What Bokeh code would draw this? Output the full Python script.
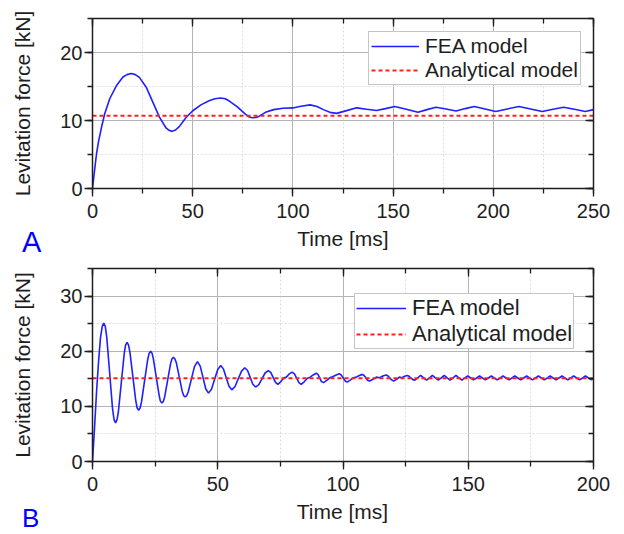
from bokeh.plotting import figure
from bokeh.layouts import column
from bokeh.models import (LinearAxis, Range1d, Legend, LegendItem, Div,
                          SingleIntervalTicker, CustomJSTickFormatter)
from bokeh.embed import file_html
from bokeh.resources import INLINE

FONT = "Liberation Sans"

# ---------------- Panel A data ----------------
a_time = [0, 1, 2, 3, 4.5, 6.1, 8.6, 11.9, 15.2, 17.2,
          19.3, 21.4, 23.5, 26.8, 30.1, 33.4, 36.7, 38.2, 39.7, 41.4,
          43.3, 46.6, 49.9, 54.1, 58.2, 61.0, 64.0, 66.2, 68.1, 72.3,
          76.4, 78.0, 79.7, 81.4, 83.0, 86.3, 90.4, 95.0, 100.0, 104.0,
          108.6, 112.0, 115.2, 118.5, 121.8, 126.8, 131.8, 136.8, 141.7, 146.2,
          150.8, 156.6, 162.4, 166.9, 171.4, 176.4, 181.4, 186.0, 190.5, 195.9,
          201.2, 207.0, 212.8, 218.6, 224.4, 229.8, 235.1, 240.5, 245.9, 250.0]
a_fea = [0, 2.6, 5.1, 6.9, 9.0, 11.0, 13.2, 15.1, 16.4, 16.75,
         16.9, 16.75, 16.3, 14.9, 12.7, 10.5, 8.9, 8.55, 8.4, 8.6,
         9.1, 10.4, 11.4, 12.3, 12.9, 13.2, 13.3, 13.2, 12.9, 12.0,
         10.9, 10.55, 10.4, 10.45, 10.6, 11.2, 11.6, 11.8, 11.85, 12.1,
         12.3, 12.05, 11.6, 11.2, 11.05, 11.45, 11.86, 11.65, 11.47, 11.75,
         12.06, 11.65, 11.2, 11.6, 11.96, 11.7, 11.4, 11.75, 12.06, 11.7,
         11.32, 11.7, 12.06, 11.7, 11.32, 11.65, 11.96, 11.65, 11.32, 11.6]
a_analytical = 10.7

# ---------------- Panel B data ----------------
b_time = [0, 0.8, 1.6, 2.4, 3.2, 3.9, 4.5,
          5.1, 5.7, 6.85, 8.0, 8.6, 9.2,
          9.8, 10.35, 11.5, 12.65, 13.2, 13.8,
          14.4, 14.95, 16.1, 17.25, 17.8, 18.4,
          19.0, 19.6, 20.8, 22.0, 22.6, 23.2,
          23.8, 24.3, 25.45, 26.6, 27.1, 27.7,
          28.3, 28.85, 30.0, 31.15, 31.7, 32.3,
          32.9, 33.5, 34.65, 35.8, 36.4, 37.0,
          37.6, 38.2, 39.45, 40.7, 41.9,
          43.0, 44.1, 45.2, 46.3,
          47.5, 48.75, 50.0, 51.2,
          52.3, 53.4, 54.5, 55.6,
          56.9, 58.2, 59.5, 60.8,
          61.9, 62.95, 64.0, 65.1,
          66.4, 67.65, 68.9, 70.2,
          71.15, 72.1, 73.05, 74.0,
          75.2, 76.4, 77.4, 78.6, 79.7,
          80.6, 81.5, 82.4, 83.3,
          84.6, 85.8, 86.9, 88.1, 89.3,
          90.0, 90.7, 91.4, 92.2,
          93.5, 94.8, 96.0, 97.3, 98.5,
          99.3, 100.1, 100.9, 101.7,
          103.0, 104.2, 105.3, 106.5, 107.7,
          108.4, 109.1, 109.8, 110.6,
          112.0, 113.3, 114.6, 115.9, 117.2,
          118.0, 118.7, 119.4, 120.2,
          121.4, 122.5, 123.5, 124.6, 125.6,
          126.4, 127.1, 127.9, 128.65,
          129.83, 131.0, 132.18, 133.35,
          134.53, 135.7, 136.88, 138.05,
          139.23, 140.4, 141.58, 142.75,
          143.93, 145.1, 146.28, 147.45,
          148.63, 149.8, 150.98, 152.15,
          153.33, 154.5, 155.68, 156.85,
          158.03, 159.2, 160.38, 161.55,
          162.73, 163.9, 165.08, 166.25,
          167.43, 168.6, 169.78, 170.95,
          172.13, 173.3, 174.48, 175.65,
          176.83, 178.0, 179.18, 180.35,
          181.53, 182.7, 183.88, 185.05,
          186.23, 187.4, 188.58, 189.75,
          190.93, 192.1, 193.28, 194.45,
          195.63, 196.8, 197.98, 199.15,
          200.0]
b_fea = [0, 6.0, 12.5, 18.0, 22.5, 24.5, 25.1,
         24.5, 22.5, 16.05, 9.6, 7.6, 7.0,
         7.6, 9.1, 14.3, 19.5, 21.1, 21.6,
         21.1, 19.8, 15.45, 11.1, 9.75, 9.3,
         9.7, 10.9, 14.65, 18.4, 19.6, 20.0,
         19.6, 18.6, 15.3, 12.0, 10.95, 10.6,
         10.9, 11.8, 14.75, 17.7, 18.6, 18.9,
         18.6, 17.85, 15.3, 12.75, 11.95, 11.7,
         11.95, 12.6, 14.9, 17.2, 18.1,
         17.3, 15.25, 13.2, 12.4,
         13.1, 14.9, 16.7, 17.4,
         16.75, 15.2, 13.65, 13.0,
         13.6, 15.0, 16.4, 17.0,
         16.5, 15.25, 14.0, 13.5,
         13.95, 15.0, 16.05, 16.5,
         16.15, 15.25, 14.35, 14.0,
         14.5, 15.2, 15.3, 15.9, 16.2,
         15.9, 15.1, 14.3, 14.0,
         14.5, 15.1, 15.3, 15.7, 16.0,
         15.8, 15.15, 14.5, 14.3,
         14.7, 15.2, 15.4, 15.7, 15.9,
         15.7, 15.15, 14.6, 14.4,
         14.8, 15.2, 15.3, 15.6, 15.8,
         15.6, 15.2, 14.75, 14.6,
         14.9, 15.3, 15.2, 15.5, 15.7,
         15.5, 15.15, 14.8, 14.6,
         14.9, 15.3, 15.2, 15.45, 15.6,
         15.45, 15.15, 14.85, 14.75,
         15.15, 15.6, 15.15, 14.75,
         15.15, 15.6, 15.15, 14.75,
         15.15, 15.6, 15.15, 14.75,
         15.15, 15.6, 15.15, 14.75,
         15.15, 15.5, 15.15, 14.8,
         15.15, 15.5, 15.15, 14.8,
         15.15, 15.5, 15.15, 14.8,
         15.15, 15.5, 15.15, 14.8,
         15.15, 15.5, 15.15, 14.8,
         15.15, 15.5, 15.15, 14.8,
         15.15, 15.5, 15.15, 14.8,
         15.15, 15.5, 15.15, 14.8,
         15.15, 15.5, 15.15, 14.8,
         15.15, 15.5, 15.15, 14.8,
         15.15, 15.5, 15.15, 14.8,
         15.05]
b_analytical = 15.1

x_label = "Time [ms]"
y_label = "Levitation force [kN]"
legend_labels = ["FEA model", "Analytical model"]
panel_tags = ["A", "B"]

AXIS_COLOR = "#1e1e1e"
TEXT_COLOR = "#1e1e1e"
BLANK = "return ''"
W = 616


def style_axis(ax, labelled, tick_in, tick_out):
    ax.axis_line_color = AXIS_COLOR
    ax.axis_line_width = 1.5
    ax.major_tick_line_color = AXIS_COLOR
    ax.minor_tick_line_color = AXIS_COLOR
    ax.major_tick_line_width = 1.3
    ax.minor_tick_line_width = 1.3
    ax.major_tick_in = tick_in[0]
    ax.major_tick_out = tick_out[0]
    ax.minor_tick_in = tick_in[1]
    ax.minor_tick_out = tick_out[1]
    ax.major_label_text_font = FONT
    ax.axis_label_text_font = FONT
    ax.axis_label_text_font_style = "normal"
    ax.axis_label_text_color = TEXT_COLOR
    ax.major_label_text_color = TEXT_COLOR
    ax.major_label_text_font_size = "20px"
    ax.axis_label_text_font_size = "21px"
    if not labelled:
        ax.formatter = CustomJSTickFormatter(code=BLANK)
        ax.major_label_standoff = 0


def make_panel(time, fea, analytical, xmax, ymax, height, borders,
               legend_loc, legend_font, glyph_w, legend_pad):
    p = figure(width=W, height=height, output_backend="svg",
               toolbar_location=None,
               x_range=Range1d(0, xmax), y_range=Range1d(0, ymax),
               min_border_left=borders[0], min_border_right=borders[1],
               min_border_top=borders[2], min_border_bottom=borders[3])
    p.outline_line_color = None
    p.background_fill_color = "white"
    p.border_fill_color = "white"

    p.xaxis.ticker = SingleIntervalTicker(interval=50, num_minor_ticks=2)
    p.yaxis.ticker = SingleIntervalTicker(interval=10, num_minor_ticks=2)
    p.yaxis.axis_label = y_label
    style_axis(p.xaxis[0], True, (0, 0), (8, 5))
    style_axis(p.yaxis[0], True, (0, 0), (8, 5))
    p.xaxis.major_label_standoff = 7
    p.yaxis.major_label_standoff = 2
    p.yaxis.axis_label_standoff = 23

    top = LinearAxis(ticker=SingleIntervalTicker(interval=50, num_minor_ticks=2))
    right = LinearAxis(ticker=SingleIntervalTicker(interval=10, num_minor_ticks=2))
    style_axis(top, False, (8, 5), (0, 0))
    style_axis(right, False, (8, 5), (0, 0))
    p.add_layout(top, "above")
    p.add_layout(right, "right")

    for g in (p.xgrid[0], p.ygrid[0]):
        g.grid_line_color = "#b4b4b4"
        g.grid_line_width = 1
        g.minor_grid_line_color = "#dcdcdc"
        g.minor_grid_line_dash = "2 2"
        g.minor_grid_line_width = 1

    r_fea = p.line(time, fea, line_color="#1f1fff", line_width=1.6)
    r_ana = p.line([time[0], time[-1]], [analytical, analytical],
                   line_color="#ff1f1f", line_width=1.8, line_dash="4 3")

    legend = Legend(items=[LegendItem(label=legend_labels[0], renderers=[r_fea]),
                           LegendItem(label=legend_labels[1], renderers=[r_ana])],
                    location=legend_loc)
    legend.label_text_font = FONT
    legend.label_text_font_size = legend_font
    legend.label_text_color = TEXT_COLOR
    legend.glyph_width = glyph_w
    legend.glyph_height = 22
    legend.label_height = 22
    legend.label_standoff = 6
    legend.padding = legend_pad
    legend.spacing = 0
    legend.margin = 0
    legend.border_line_color = "#8c8c8c"
    legend.border_line_width = 1.2
    legend.background_fill_color = "white"
    legend.background_fill_alpha = 1.0
    p.add_layout(legend, "center")
    return p


def make_strip(height, tag, tag_top, tag_size, tag_lh, label_top,
               frame_left, frame_w):
    """Band under a panel holding the x-axis title and the panel letter."""
    html = (
        f'<div style="position:relative;width:{W}px;height:{height}px;'
        f'margin:0;padding:0;">'
        f'<span style="position:absolute;left:22px;top:{tag_top}px;'
        f"font-family:'{FONT}';font-size:{tag_size}px;line-height:{tag_lh}px;"
        f'color:#0000ff;white-space:nowrap;">{tag}</span>'
        f'<div style="position:absolute;left:{frame_left}px;width:{frame_w}px;'
        f"top:{label_top}px;text-align:center;font-family:'{FONT}';"
        f'font-size:21px;line-height:16px;color:{TEXT_COLOR};'
        f'white-space:nowrap;">{x_label}</div>'
        f'</div>'
    )
    return Div(text=html, width=W, height=height, margin=(0, 0, 0, 0))


p1 = make_panel(a_time, a_fea, a_analytical, 250, 25, 228,
                (91, 21, 18, 40), (276, 103), "21px", 48, 2)
s1 = make_strip(30, panel_tags[0], 2, 29, 24, 3, 91, 504)
p2 = make_panel(b_time, b_fea, b_analytical, 200, 35, 241,
                (92, 23, 10, 38), (262, 112), "22px", 50, 1)
s2 = make_strip(31, panel_tags[1], 9, 26, 20, 5, 92, 501)

layout = column(p1, s1, p2, s2, spacing=0)
open("out.html", "w").write(file_html(layout, INLINE))
